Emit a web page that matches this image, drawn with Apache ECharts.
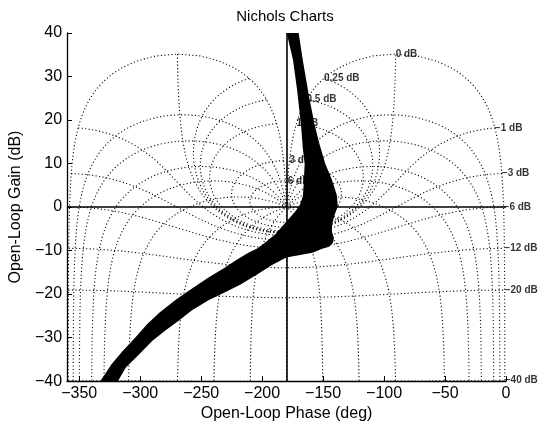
<!DOCTYPE html>
<html>
<head>
<meta charset="utf-8">
<script src="https://cdn.jsdelivr.net/npm/echarts@6/dist/echarts.min.js"></script>
<style>
  html, body { margin: 0; padding: 0; background: #fff; }
  #chart { width: 540px; height: 427px; }
</style>
</head>
<body>
<div id="chart"></div>
<script>
// Closed-loop magnitude levels (dB) of the constant-M contours, with their labels
const gainLevels = [6, 3, 1, 0.5, 0.25, 0, -1, -3, -6, -12, -20, -40];
const gainLabels = ['6 dB', '3 dB', '1 dB', '0.5 dB', '0.25 dB', '0 dB',
                    '−1 dB', '−3 dB', '−6 dB', '−12 dB', '−20 dB', '−40 dB'];
// Closed-loop phase levels (deg) of the constant-N contours
const phaseLevels = [-1, -5, -10, -20, -30, -50, -90, -120, -150, -180,
                     -210, -240, -270, -310, -330, -340, -350, -355, -359];

// Axis ticks
const phaseTicks = [-350, -300, -250, -200, -150, -100, -50, 0];
const gainTicks = [-40, -30, -20, -10, 0, 10, 20, 30, 40];

// Envelope of the open-loop frequency responses (phase deg, gain dB)
// left / upper edge, from the top down
const leftEdgePhase = [-180.2, -178.6, -174.6, -171.4, -168.2, -166.6, -165.1, -165.9, -166.6, -169.0,
                       -173.0, -180.2, -189.0, -197.7, -204.1, -211.3, -220.9, -230.4, -244.0, -257.5,
                       -270.3, -283.9, -294.2, -303.8, -314.2, -323.7, -335.0];
const leftEdgeGain  = [41, 38.5, 33.7, 27.1, 19.1, 13.4, 10.0, 5.5, 2.5, 0.5,
                       -1.1, -3.4, -6.2, -8.2, -9.5, -10.5, -12.1, -13.9, -16.2, -18.7,
                       -21.2, -24.2, -26.9, -29.9, -33.0, -36.2, -41];
// right / lower edge, from the top down
const rightEdgePhase = [-170.6, -166.6, -161.9, -157.1, -153.1, -148.3, -142.7, -138.7, -137.9, -140.3,
                        -142.7, -142.7, -141.1, -141.9, -145.1, -150.7, -158.7, -166.6, -180.2, -192.2,
                        -204.1, -217.7, -230.4, -244.0, -257.5, -267.9, -279.1, -290.2, -301.4, -311.8,
                        -320.3];
const rightEdgeGain  = [41, 33.7, 26.0, 19.1, 14.6, 10.0, 6.2, 2.7, 0.2, -1.6,
                        -3.9, -5.7, -7.1, -8.2, -9.1, -9.6, -10.5, -10.9, -11.6, -13.4,
                        -15.5, -17.8, -19.6, -21.4, -23.7, -26.0, -28.3, -30.8, -34.0, -36.9,
                        -41];

// Open-loop point L = T / (1 - T) for a closed-loop value T = gDb ∠ pDeg
function openLoopPoint(gDb, pDeg) {
  const g = Math.pow(10, gDb / 20);
  const p = pDeg * Math.PI / 180;
  const dr = 1 - g * Math.cos(p);
  const di = -g * Math.sin(p);
  const phase = pDeg - Math.atan2(di, dr) * 180 / Math.PI;
  const gain = 20 * Math.log10(g / Math.hypot(dr, di));
  return [phase, gain];
}

const gridStyle = { color: '#000', width: 1.1, type: [1.1, 2.4] };
const series = [];

// constant closed-loop magnitude contours
gainLevels.forEach(function (m) {
  const pts = [];
  for (let p = -359; p <= -1.0001; p += 0.25) pts.push(openLoopPoint(m, p));
  pts.push(openLoopPoint(m, -1));
  series.push({
    type: 'line', data: pts, showSymbol: false, silent: true, z: 1,
    lineStyle: gridStyle, clip: true, animation: false
  });
});

// constant closed-loop phase contours
phaseLevels.forEach(function (p) {
  const pts = [];
  for (let g = -60; g <= 40; g += 0.05) pts.push(openLoopPoint(g, p));
  series.push({
    type: 'line', data: pts, showSymbol: false, silent: true, z: 1,
    lineStyle: gridStyle, clip: true, animation: false
  });
});

// contour labels, each at the -1 deg closed-loop phase point of its contour
series.push({
  type: 'scatter', symbolSize: 0, silent: true, clip: false, z: 2, animation: false,
  data: gainLevels.map(function (m, i) {
    return { value: openLoopPoint(m, -1), name: gainLabels[i] };
  }),
  label: {
    show: true, position: 'right', distance: 0, formatter: '{b}',
    fontSize: 10, fontWeight: 'bold', color: '#000',
    fontFamily: 'Liberation Sans, Arial, sans-serif'
  }
});

// response envelope
const envPhase = leftEdgePhase.concat(rightEdgePhase.slice().reverse());
const envGain = leftEdgeGain.concat(rightEdgeGain.slice().reverse());
series.push({
  type: 'custom', z: 5, clip: true, silent: true, animation: false,
  data: [[envPhase[0], envGain[0]]],
  renderItem: function (params, api) {
    const pts = envPhase.map(function (ph, i) { return api.coord([ph, envGain[i]]); });
    return { type: 'polygon', shape: { points: pts }, style: { fill: '#000' } };
  }
});

// critical lines: 0 dB and -180 deg
const criticalGain = 0;
const criticalPhase = -180;
series.push({
  type: 'line', data: [], z: 6, silent: true, animation: false,
  markLine: {
    silent: true, symbol: 'none', animation: false,
    label: { show: false },
    lineStyle: { color: '#000', width: 1.6, type: 'solid' },
    data: [{ yAxis: criticalGain }, { xAxis: criticalPhase }]
  }
});

const fmt = function (v) { return v < 0 ? '−' + Math.abs(v) : String(v); };
const font = 'Liberation Sans, Arial, Helvetica, sans-serif';

const chart = echarts.init(document.getElementById('chart'), null, { renderer: 'canvas' });
chart.setOption({
  animation: false,
  backgroundColor: '#fff',
  title: {
    text: 'Nichols Charts', left: 280, top: 4, textAlign: 'center',
    textStyle: { fontSize: 15, fontWeight: 'normal', color: '#000', fontFamily: font }
  },
  grid: { left: 54, right: 34, top: 33, bottom: 43 },
  xAxis: {
    type: 'value', min: -360, max: 0,
    name: 'Open-Loop Phase (deg)', nameLocation: 'middle', nameGap: 20,
    nameTextStyle: { fontSize: 16, color: '#000', fontFamily: font },
    axisLine: { onZero: false, lineStyle: { color: '#000', width: 1.3 } },
    axisTick: { inside: true, length: 5, customValues: phaseTicks, lineStyle: { color: '#000' } },
    axisLabel: { customValues: phaseTicks, formatter: fmt, margin: 4, fontSize: 16, color: '#000', fontFamily: font },
    splitLine: { show: false }
  },
  yAxis: {
    type: 'value', min: -40, max: 40, interval: 10,
    name: 'Open-Loop Gain (dB)', nameLocation: 'middle', nameGap: 32,
    nameTextStyle: { fontSize: 16, color: '#000', fontFamily: font },
    axisLine: { show: true, onZero: false, lineStyle: { color: '#000', width: 1.3 } },
    axisTick: { show: true, inside: true, length: 5, customValues: gainTicks, lineStyle: { color: '#000' } },
    axisLabel: { customValues: gainTicks, formatter: fmt, margin: 5, fontSize: 16, color: '#000', fontFamily: font },
    splitLine: { show: false }
  },
  series: series
});
</script>
</body>
</html>
